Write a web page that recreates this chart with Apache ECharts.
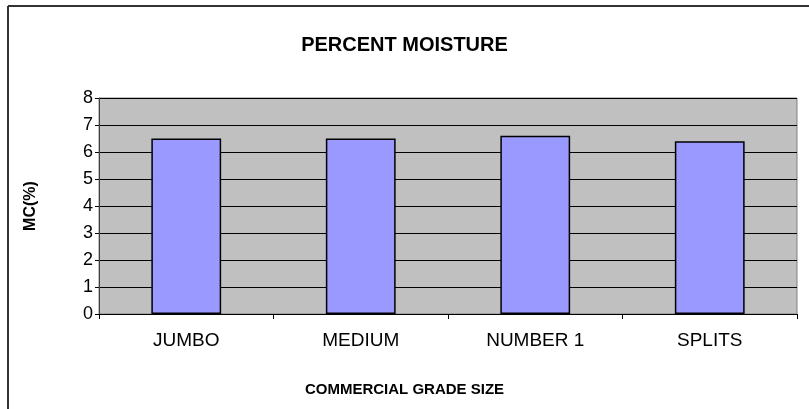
<!DOCTYPE html>
<html>
<head>
<meta charset="utf-8">
<script src="https://cdn.jsdelivr.net/npm/echarts@6/dist/echarts.min.js"></script>
<style>
  html, body { margin: 0; padding: 0; background: #fff; }
  #chart { width: 809px; height: 409px; }
</style>
</head>
<body>
<div id="chart"></div>
<script>
const categories = ['JUMBO', 'MEDIUM', 'NUMBER 1', 'SPLITS']
const moisture = [6.5, 6.5, 6.6, 6.4]
const yMin = 0
const yMax = 8
const yStep = 1

const font = 'Arial, "Liberation Sans", sans-serif'

let myChart = echarts.init(document.getElementById('chart'))
myChart.setOption({
  animation: false,
  backgroundColor: '#ffffff',
  title: [
    {
      text: 'PERCENT MOISTURE',
      left: 'center',
      top: 30,
      textStyle: {
        color: '#000',
        fontFamily: font,
        fontWeight: 'bold',
        fontSize: 20
      }
    },
    {
      // x axis title is centred on the whole chart, not on the plot
      text: 'COMMERCIAL GRADE SIZE',
      left: 'center',
      top: 377,
      textStyle: {
        color: '#000',
        fontFamily: font,
        fontWeight: 'bold',
        fontSize: 15
      }
    }
  ],
  graphic: [
    // frame of the chart area: only top and left sides are visible
    { type: 'line', shape: { x1: 8, y1: 6, x2: 809, y2: 6 }, style: { stroke: '#333', lineWidth: 2 } },
    { type: 'line', shape: { x1: 8, y1: 6, x2: 8, y2: 409 }, style: { stroke: '#333', lineWidth: 2 } }
  ],
  grid: {
    show: true,
    left: 99,
    right: 12,
    top: 98,
    bottom: 95,
    backgroundColor: '#C0C0C0',
    borderColor: '#808080',
    borderWidth: 1
  },
  xAxis: {
    type: 'category',
    data: categories,
    axisLine: { lineStyle: { color: '#000', width: 1 } },
    axisTick: { show: true, length: 5, lineStyle: { color: '#000' } },
    axisLabel: {
      color: '#000',
      fontFamily: font,
      fontSize: 19,
      margin: 17
    },
    splitLine: { show: false }
  },
  yAxis: {
    type: 'value',
    min: yMin,
    max: yMax,
    interval: yStep,
    name: 'MC(%)',
    nameLocation: 'middle',
    nameGap: 60,
    nameTextStyle: {
      color: '#000',
      fontFamily: font,
      fontWeight: 'bold',
      fontSize: 16
    },
    axisLine: { show: true, lineStyle: { color: '#404040', width: 1 } },
    axisTick: { show: true, length: 4, lineStyle: { color: '#000' } },
    axisLabel: {
      color: '#000',
      fontFamily: font,
      fontSize: 18,
      margin: 6
    },
    splitLine: { show: true, lineStyle: { color: '#000', width: 1 } }
  },
  series: [
    {
      name: 'MC(%)',
      type: 'bar',
      data: moisture,
      barWidth: '40%',
      itemStyle: {
        color: '#9999FF',
        borderColor: '#000',
        borderWidth: 1.5
      }
    }
  ]
})
</script>
</body>
</html>
